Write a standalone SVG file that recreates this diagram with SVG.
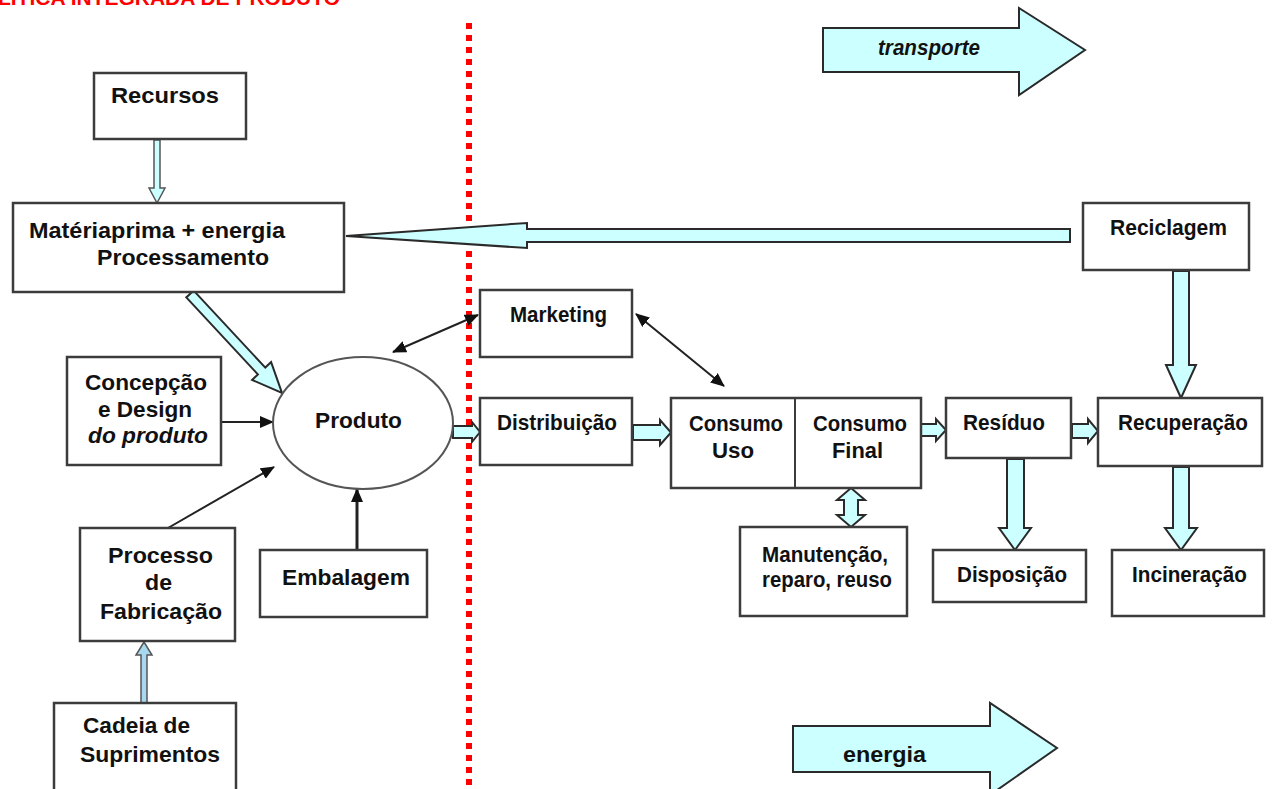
<svg xmlns="http://www.w3.org/2000/svg" width="1272" height="789" viewBox="0 0 1272 789">
<style>
.box{fill:#fff;stroke:#3c3c3c;stroke-width:2.5}
.t{font-family:"Liberation Sans",Arial,sans-serif;font-weight:bold;font-size:22px;fill:#111}
.it{font-style:italic}
.blk{fill:#ccffff;stroke:#2a2a2a;stroke-width:2;stroke-linejoin:miter}
.thin{fill:#ccffff;stroke:#555;stroke-width:1.5}
.ln{stroke:#222;stroke-width:2;fill:none}
</style>
<defs>
<marker id="ah" viewBox="0 0 14 12" refX="13" refY="6" markerWidth="14" markerHeight="12" markerUnits="userSpaceOnUse" orient="auto-start-reverse">
<path d="M0,0 L14,6 L0,12 Z" fill="#111"/>
</marker>
</defs>
<rect width="1272" height="789" fill="#fff"/>

<text x="-2" y="5" font-family="Liberation Sans,Arial,sans-serif" font-weight="bold" font-size="20" fill="#ff0000" textLength="342" lengthAdjust="spacingAndGlyphs">LÍTICA INTEGRADA DE PRODUTO</text>

<line x1="469" y1="23" x2="469" y2="789" stroke="#ff0000" stroke-width="6" stroke-dasharray="6 6"/>

<g id="connectors">
<polygon class="thin" points="154,140 160,140 160,188 165,188 157,203 149,188 154,188"/>
<polygon class="thin" points="141,703 147,703 147,655 152,655 144,642 136,655 141,655" style="fill:#a8d8f0"/>
<polygon class="blk" points="1070,229 527,229 527,223 346,236 527,248 527,242 1070,242"/>
<polygon class="blk" points="193.7,290.6 265.3,367.6 271.1,362.1 282,393 252.1,379.9 257.9,374.4 186.3,297.4"/>
<line class="ln" x1="222" y1="422" x2="273" y2="422" marker-end="url(#ah)"/>
<line class="ln" x1="168" y1="528" x2="274" y2="467" marker-end="url(#ah)"/>
<line class="ln" x1="357" y1="550" x2="357" y2="489" marker-end="url(#ah)" style="stroke-width:3"/>
<line class="ln" x1="393" y1="352" x2="478" y2="315" marker-start="url(#ah)" marker-end="url(#ah)"/>
<line class="ln" x1="636" y1="314" x2="724" y2="386" marker-start="url(#ah)" marker-end="url(#ah)"/>
<polygon class="blk" points="453,426 472,426 472,422 480,432 472,442 472,438 453,438"/>
<polygon class="blk" points="633,425 660,425 660,420 671,432.5 660,445 660,440 633,440"/>
<polygon class="blk" points="920,424 936,424 936,419 946,430 936,441 936,436 920,436"/>
<polygon class="blk" points="1072,424 1088,424 1088,419 1098,431 1088,443 1088,438 1072,438"/>
<polygon class="blk" points="1173,271 1189,271 1189,365 1196,365 1181,398 1166,365 1173,365"/>
<polygon class="blk" points="1007,459 1024,459 1024,528 1031,528 1015,550 999,528 1007,528"/>
<polygon class="blk" points="1173,467 1189,467 1189,528 1197,528 1181,550 1165,528 1173,528"/>
<polygon class="blk" points="844,500 837,500 851,488 865,500 858,500 858,515 865,515 851,527 837,515 844,515"/>
</g>

<g id="transporte">
<polygon class="blk" points="823,28 1019,28 1019,8 1085,50 1019,95 1019,72 823,72"/>
<text class="t it" x="878" y="55" font-size="20" textLength="102" lengthAdjust="spacingAndGlyphs">transporte</text>
</g>

<g id="energia">
<polygon class="blk" points="793,726 990,726 990,703 1057,748 990,795 990,772 793,772"/>
<text class="t" x="843" y="762" textLength="83" lengthAdjust="spacingAndGlyphs">energia</text>
</g>

<g id="recursos">
<rect class="box" x="94" y="73" width="152" height="66"/>
<text class="t" x="111" y="103" textLength="108" lengthAdjust="spacingAndGlyphs">Recursos</text>
</g>

<g id="materia">
<rect class="box" x="13" y="203" width="331" height="89"/>
<text class="t" x="29" y="238" textLength="256" lengthAdjust="spacingAndGlyphs">Matériaprima + energia</text>
<text class="t" x="97" y="265" textLength="172" lengthAdjust="spacingAndGlyphs">Processamento</text>
</g>

<g id="reciclagem">
<rect class="box" x="1083" y="203" width="166" height="67"/>
<text class="t" x="1110" y="235" textLength="117" lengthAdjust="spacingAndGlyphs">Reciclagem</text>
</g>

<g id="marketing">
<rect class="box" x="480" y="290" width="152" height="67"/>
<text class="t" x="510" y="322" textLength="97" lengthAdjust="spacingAndGlyphs">Marketing</text>
</g>

<g id="concepcao">
<rect class="box" x="67" y="357" width="154" height="108"/>
<text class="t" x="85" y="390" textLength="122" lengthAdjust="spacingAndGlyphs">Concepção</text>
<text class="t" x="98" y="417" textLength="94" lengthAdjust="spacingAndGlyphs">e Design</text>
<text class="t it" x="88" y="443" textLength="120" lengthAdjust="spacingAndGlyphs">do produto</text>
</g>

<g id="produto">
<ellipse cx="363" cy="423" rx="90" ry="66" fill="#fff" stroke="#555" stroke-width="2"/>
<text class="t" x="315" y="428" textLength="87" lengthAdjust="spacingAndGlyphs">Produto</text>
</g>

<g id="distribuicao">
<rect class="box" x="480" y="398" width="152" height="67"/>
<text class="t" x="497" y="430" textLength="120" lengthAdjust="spacingAndGlyphs">Distribuição</text>
</g>

<g id="consumo">
<rect class="box" x="671" y="398" width="250" height="90"/>
<line x1="795" y1="398" x2="795" y2="488" stroke="#3c3c3c" stroke-width="2"/>
<text class="t" x="689" y="431" textLength="94" lengthAdjust="spacingAndGlyphs">Consumo</text>
<text class="t" x="712" y="458" textLength="42" lengthAdjust="spacingAndGlyphs">Uso</text>
<text class="t" x="813" y="431" textLength="94" lengthAdjust="spacingAndGlyphs">Consumo</text>
<text class="t" x="832" y="458" textLength="51" lengthAdjust="spacingAndGlyphs">Final</text>
</g>

<g id="residuo">
<rect class="box" x="946" y="398" width="125" height="60"/>
<text class="t" x="963" y="430" textLength="82" lengthAdjust="spacingAndGlyphs">Resíduo</text>
</g>

<g id="recuperacao">
<rect class="box" x="1098" y="398" width="164" height="68"/>
<text class="t" x="1118" y="430" textLength="130" lengthAdjust="spacingAndGlyphs">Recuperação</text>
</g>

<g id="manutencao">
<rect class="box" x="740" y="527" width="167" height="89"/>
<text class="t" x="762" y="562" textLength="126" lengthAdjust="spacingAndGlyphs">Manutenção,</text>
<text class="t" x="762" y="587" textLength="130" lengthAdjust="spacingAndGlyphs">reparo, reuso</text>
</g>

<g id="disposicao">
<rect class="box" x="933" y="550" width="153" height="52"/>
<text class="t" x="957" y="582" textLength="110" lengthAdjust="spacingAndGlyphs">Disposição</text>
</g>

<g id="incineracao">
<rect class="box" x="1112" y="550" width="152" height="66"/>
<text class="t" x="1132" y="582" textLength="115" lengthAdjust="spacingAndGlyphs">Incineração</text>
</g>

<g id="processo">
<rect class="box" x="80" y="528" width="155" height="113"/>
<text class="t" x="108" y="563" textLength="105" lengthAdjust="spacingAndGlyphs">Processo</text>
<text class="t" x="145" y="590" textLength="27" lengthAdjust="spacingAndGlyphs">de</text>
<text class="t" x="100" y="619" textLength="122" lengthAdjust="spacingAndGlyphs">Fabricação</text>
</g>

<g id="embalagem">
<rect class="box" x="260" y="550" width="167" height="67"/>
<text class="t" x="282" y="585" textLength="128" lengthAdjust="spacingAndGlyphs">Embalagem</text>
</g>

<g id="cadeia">
<rect class="box" x="54" y="703" width="182" height="100"/>
<text class="t" x="83" y="733" textLength="107" lengthAdjust="spacingAndGlyphs">Cadeia de</text>
<text class="t" x="80" y="762" textLength="140" lengthAdjust="spacingAndGlyphs">Suprimentos</text>
</g>
</svg>
